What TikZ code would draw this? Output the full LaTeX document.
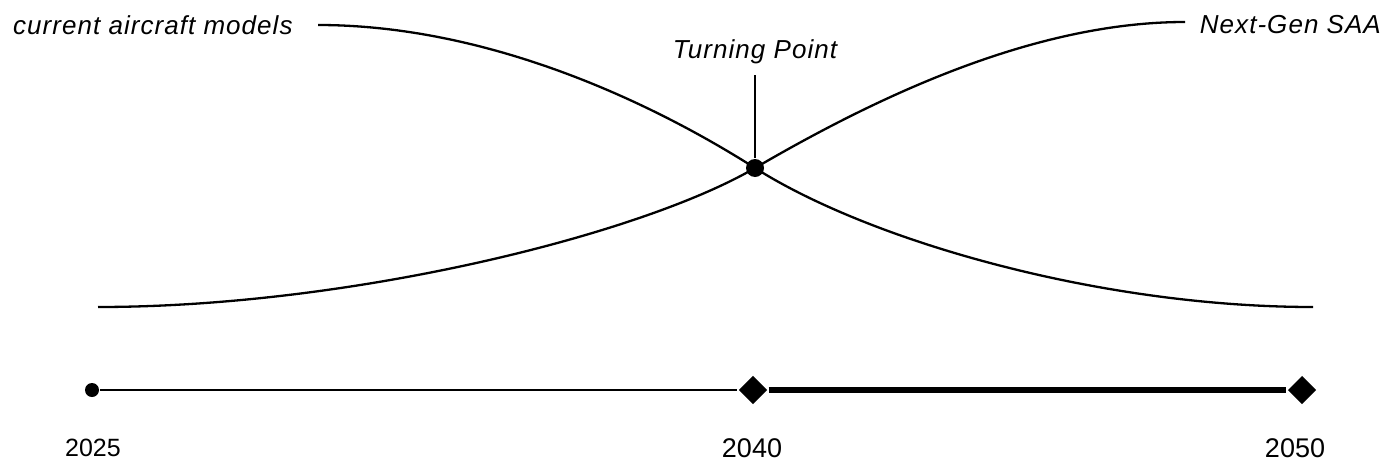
\documentclass[tikz,border=0pt]{standalone}
\usepackage{fontspec}
\setmainfont{Liberation Sans}
\usetikzlibrary{shapes.geometric}
\begin{document}
\begin{tikzpicture}[x=1pt, y=-1pt, line width=2.3pt,
    lbl/.style={font=\itshape\fontsize{26}{31}\selectfont\addfontfeature{LetterSpace=4}, inner sep=0pt},
    yr/.style={font=\fontsize{25}{30}\selectfont, inner sep=0pt},
    dot/.style={circle, fill, inner sep=0pt, minimum size=14pt},
    milestone/.style={diamond, fill, inner sep=0pt, minimum size=29pt},
    span/.style={line width=5.5pt}]
  \useasboundingbox (0,0) rectangle (1388,466);
  % curve labels
  \node[lbl, anchor=west] (cur) at (12,25) {current aircraft models};
  \node[lbl, anchor=east] (next) at (1382,25) {Next-Gen SAA};
  \node[lbl] (turn) at (755,52) {Turning Point};
  \node[dot, minimum size=18pt] (tp) at (755,168) {};
  \coordinate (curA) at (318,25);
  \coordinate (curB) at (1313,307);
  \coordinate (newA) at (98,307);
  \coordinate (newB) at (1185,22);
  \coordinate (stem) at (755,75);
  % the two curves
  \draw (curA) .. controls (480,25) and (640,95) .. (tp.center)
               .. controls (870,241) and (1100,307) .. (curB);
  \draw (newA) .. controls (350,307) and (640,235) .. (tp.center)
               .. controls (870,101) and (1030,22) .. (newB);
  \draw (stem) -- (tp);
  % timeline
  \node[dot] (t0) at (92,390) {};
  \node[milestone] (t1) at (753,390) {};
  \node[milestone] (t2) at (1302,390) {};
  \draw (t0) -- (t1);
  \draw[span] (t1) -- (t2);
  \node[yr] (y0) at (93,448) {2025};
  \node[yr, font=\fontsize{27}{32}\selectfont] (y1) at (752,448) {2040};
  \node[yr, font=\fontsize{27}{32}\selectfont] (y2) at (1295,448) {2050};
\end{tikzpicture}
\end{document}
